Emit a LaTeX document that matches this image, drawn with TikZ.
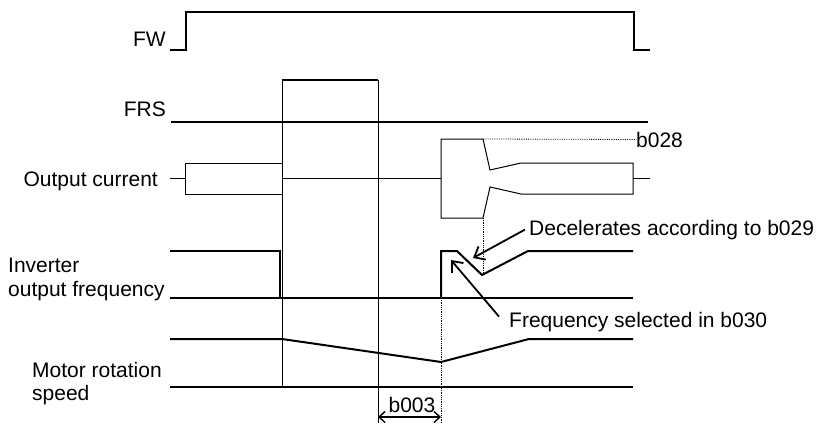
\documentclass[tikz,border=0pt]{standalone}
\usepackage{fontspec}
\setmainfont{Liberation Sans}
\usetikzlibrary{arrows.meta}
\begin{document}
\begin{tikzpicture}[x=1pt,y=-1pt,
  sig/.style={line width=2pt, line join=miter},
  thinline/.style={line width=1pt},
  dotline/.style={line width=0.8pt, densely dotted},
  lbl/.style={font=\fontsize{21}{24}\selectfont, inner sep=0pt, text=black},
  callout/.style={line width=1.8pt, -{Straight Barb[length=9pt,width=15pt]}},
  dimarrow/.style={line width=1.4pt, {Straight Barb[length=6pt,width=11pt]}-{Straight Barb[length=6pt,width=11pt]}}
]
\useasboundingbox (0,0) rectangle (819,423);

% labels
\node[lbl, anchor=base east] (fw) at (166,46) {FW};
\node[lbl, anchor=base east] (frs) at (166,116) {FRS};
\node[lbl, anchor=base east] (oc) at (158,186) {Output current};
\node[lbl, anchor=base west] (inv1) at (8,272) {Inverter};
\node[lbl, anchor=base west] (inv2) at (8,296) {output frequency};
\node[lbl, anchor=base west] (mot1) at (32,377) {Motor rotation};
\node[lbl, anchor=base west] (mot2) at (32,400) {speed};
\node[lbl, anchor=base west] (dec) at (529,235) {Decelerates according to b029};
\node[lbl, anchor=base west] (fsel) at (509,327) {Frequency selected in b030};
\node[lbl, anchor=base west] (b028) at (636,147) {b028};
\node[lbl, anchor=base] (b003) at (412,412) {b003};

% FW
\draw[sig] (170,50) -- (186,50) -- (186,12) -- (634,12) -- (634,50) -- (650,50);
% FRS
\draw[sig] (171,122) -- (648,122);
\draw[sig] (282,80) -- (378,80);
\draw[thinline] (282,80) -- (282,387);
\draw[thinline] (378,80) -- (378,423);

% Output current
\draw[thinline] (170,178) -- (185,178);
\draw[thinline] (185,163) rectangle (282,194);
\draw[thinline] (282,178) -- (441,178);
\draw[thinline] (441,139) -- (483,139) -- (490,170) -- (521,163) -- (633,163) -- (633,194)
  -- (521,194) -- (490,187) -- (483,218) -- (441,218) -- cycle;
\draw[thinline] (633,178) -- (650,178);
\draw[dotline] (483,139) -- (b028.west);
\draw[dotline] (483,218) -- (483,274);

% Inverter output frequency
\draw[sig] (170,251) -- (280,251) -- (280,298);
\draw[sig] (170,298) -- (633,298);
\draw[sig] (441,298) -- (441,251) -- (457,251) -- (482,275) -- (528,251) -- (633,251);
\draw[dotline] (441,298) -- (441,423);

% Motor rotation speed
\draw[sig] (170,339) -- (282,339) -- (441,362) -- (529,339) -- (633,339);
\draw[sig] (170,387) -- (633,387);

% callouts
\coordinate (decTip) at (473,258);
\coordinate (fselTip) at (451,260);
\draw[callout] ([xshift=-4pt]dec.west) -- (decTip);
\draw[callout] ([xshift=-10pt,yshift=5pt]fsel.west) -- (fselTip);

% b003
\coordinate (b3l) at (378,417);
\coordinate (b3r) at (441,417);
\draw[dimarrow] (b3l) -- (b3r);
\end{tikzpicture}
\end{document}
